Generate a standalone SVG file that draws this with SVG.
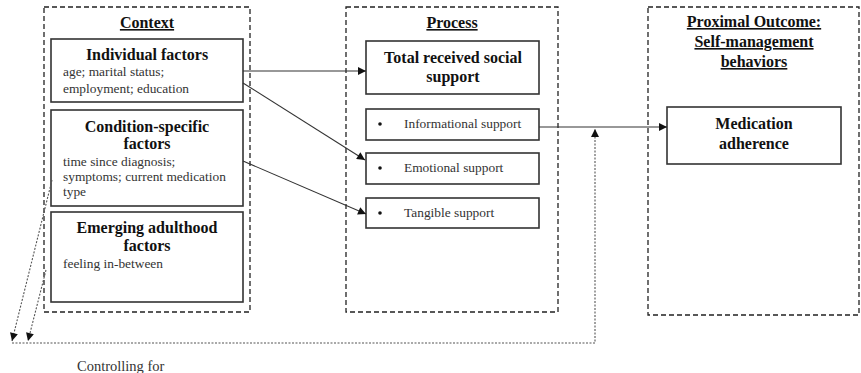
<svg xmlns="http://www.w3.org/2000/svg" width="861" height="373" viewBox="0 0 861 373">
<defs>
<style>
.dash{fill:none;stroke:#222;stroke-width:1.3;stroke-dasharray:5,3}
.box{fill:#fff;stroke:#333;stroke-width:1.6}
.h{font-family:"Liberation Serif",serif;font-weight:bold;font-size:16px;fill:#111;text-anchor:middle}
.u{text-decoration:underline}
.t{font-family:"Liberation Serif",serif;font-size:13.4px;fill:#333}
.c{fill:none;stroke:#333;stroke-width:1.1}
.d{fill:none;stroke:#555;stroke-width:1.1;stroke-dasharray:2,1.5}
</style>
<marker id="ah" viewBox="0 0 10 10" refX="10" refY="5" markerWidth="10" markerHeight="8" markerUnits="userSpaceOnUse" orient="auto"><path d="M0,0L10,5L0,10z" fill="#111"/></marker>
</defs>
<rect width="861" height="373" fill="#fff"/>
<g id="context">
<rect class="dash" x="44" y="7" width="206" height="305"/>
<text class="h u" x="147" y="28">Context</text>
</g>
<g id="individual">
<rect class="box" x="51" y="39" width="192" height="63"/>
<text class="h" x="147" y="60">Individual factors</text>
<text class="t" x="63" y="76">age; marital status;</text>
<text class="t" x="63" y="93">employment; education</text>
</g>
<g id="condition">
<rect class="box" x="51" y="110" width="192" height="96"/>
<text class="h" x="147" y="132">Condition-specific</text>
<text class="h" x="147" y="149">factors</text>
<text class="t" x="63" y="166">time since diagnosis;</text>
<text class="t" x="63" y="181">symptoms; current medication</text>
<text class="t" x="63" y="196">type</text>
</g>
<g id="emerging">
<rect class="box" x="51" y="212" width="192" height="90"/>
<text class="h" x="147" y="233">Emerging adulthood</text>
<text class="h" x="147" y="251">factors</text>
<text class="t" x="63" y="268">feeling in-between</text>
</g>
<g id="process">
<rect class="dash" x="346" y="7" width="212" height="305"/>
<text class="h u" x="452" y="28">Process</text>
</g>
<g id="total">
<rect class="box" x="366" y="41" width="173" height="53"/>
<text class="h" x="453" y="63">Total received social</text>
<text class="h" x="453" y="82">support</text>
</g>
<g id="informational">
<rect class="box" x="366" y="109" width="173" height="31"/>
<circle cx="380" cy="124" r="1.8" fill="#111"/>
<text class="t" x="404" y="128">Informational support</text>
</g>
<g id="emotional">
<rect class="box" x="366" y="153" width="173" height="31"/>
<circle cx="380" cy="168" r="1.8" fill="#111"/>
<text class="t" x="404" y="172">Emotional support</text>
</g>
<g id="tangible">
<rect class="box" x="366" y="198" width="173" height="30"/>
<circle cx="380" cy="213" r="1.8" fill="#111"/>
<text class="t" x="404" y="217">Tangible support</text>
</g>
<g id="outcome">
<rect class="dash" x="648" y="7" width="211" height="308"/>
<text class="h u" x="754" y="27">Proximal Outcome:</text>
<text class="h u" x="754" y="47">Self-management</text>
<text class="h u" x="754" y="67">behaviors</text>
</g>
<g id="medication">
<rect class="box" x="667" y="107" width="174" height="57"/>
<text class="h" x="754" y="129">Medication</text>
<text class="h" x="754" y="149">adherence</text>
</g>
<g id="controlling">
<text class="t" x="77" y="371" style="font-size:14.5px">Controlling for</text>
</g>
<g id="connectors">
<line class="c" x1="243" y1="71" x2="366" y2="71" marker-end="url(#ah)"/>
<line class="c" x1="243" y1="83" x2="365" y2="160" marker-end="url(#ah)"/>
<line class="c" x1="243" y1="161" x2="366" y2="214" marker-end="url(#ah)"/>
<line class="c" x1="539" y1="127" x2="667" y2="127" marker-end="url(#ah)"/>
<polyline class="d" points="12,343 595,343 595,129" marker-end="url(#ah)"/>
<line class="d" x1="52" y1="180" x2="12" y2="341" marker-end="url(#ah)"/>
<line class="d" x1="46" y1="270" x2="28" y2="341" marker-end="url(#ah)"/>
</g>
</svg>
